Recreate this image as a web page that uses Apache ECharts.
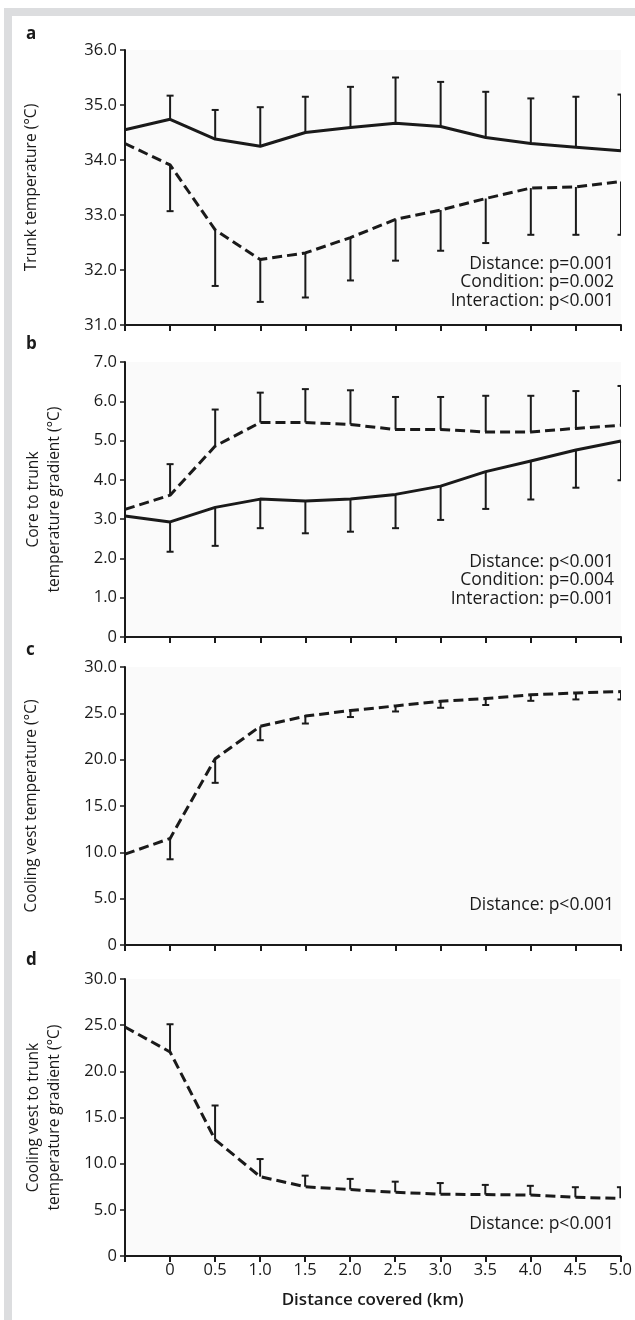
<!DOCTYPE html>
<html>
<head>
<meta charset="utf-8">
<script src="https://cdn.jsdelivr.net/npm/echarts@6/dist/echarts.min.js"></script>
<style>
html,body{margin:0;padding:0;background:#fff;width:635px;height:1320px;overflow:hidden;}
#bandTop{position:absolute;left:4px;top:8px;width:631px;height:8px;background:#dcdddf;}
#bandLeft{position:absolute;left:4px;top:8px;width:8px;height:1312px;background:#dcdddf;}
#chart{position:absolute;left:0;top:0;width:635px;height:1320px;}
</style>
</head>
<body>
<div id="bandTop"></div>
<div id="bandLeft"></div>
<div id="chart"></div>
<script>
// Distance covered (km); -0.5 is the pre-exercise baseline (unlabelled)
const distances = [-0.5, 0, 0.5, 1.0, 1.5, 2.0, 2.5, 3.0, 3.5, 4.0, 4.5, 5.0];

// Panel a: trunk temperature
const aSolid      = [34.55, 34.74, 34.38, 34.25, 34.50, 34.59, 34.67, 34.61, 34.41, 34.30, 34.23, 34.17];
const aSolidUpper = [null, 35.17, 34.91, 34.96, 35.15, 35.33, 35.50, 35.42, 35.24, 35.12, 35.15, 35.19];
const aDash       = [34.30, 33.91, 32.73, 32.19, 32.31, 32.59, 32.92, 33.09, 33.30, 33.49, 33.51, 33.61];
const aDashLower  = [null, 33.07, 31.71, 31.42, 31.50, 31.81, 32.17, 32.35, 32.49, 32.64, 32.64, 32.64];

// Panel b: core to trunk temperature gradient
const bSolid      = [3.08, 2.93, 3.30, 3.51, 3.46, 3.51, 3.63, 3.84, 4.21, 4.48, 4.76, 4.99];
const bSolidLower = [null, 2.17, 2.32, 2.77, 2.64, 2.68, 2.77, 2.98, 3.26, 3.50, 3.80, 3.99];
const bDash       = [3.25, 3.61, 4.86, 5.46, 5.46, 5.41, 5.28, 5.28, 5.22, 5.22, 5.31, 5.39];
const bDashUpper  = [null, 4.40, 5.79, 6.22, 6.31, 6.28, 6.11, 6.11, 6.14, 6.14, 6.26, 6.39];

// Panel c: cooling vest temperature
const cDash       = [9.8, 11.5, 20.1, 23.6, 24.7, 25.3, 25.8, 26.3, 26.6, 27.0, 27.2, 27.35];
const cDashLower  = [null, 9.25, 17.5, 22.1, 23.9, 24.6, 25.2, 25.6, 25.9, 26.35, 26.5, 26.5];

// Panel d: cooling vest to trunk temperature gradient
const dDash       = [24.8, 22.1, 12.6, 8.6, 7.5, 7.2, 6.9, 6.7, 6.65, 6.6, 6.35, 6.25];
const dDashUpper  = [null, 25.1, 16.3, 10.5, 8.7, 8.35, 8.05, 7.9, 7.7, 7.6, 7.45, 7.45];

// Axis settings per panel
const yMin = [31, 0, 0, 0];
const yMax = [36, 7, 30, 30];
const yStep = [1, 1, 5, 5];
const yNames = ['Trunk temperature (°C)', 'Core to trunk\ntemperature gradient (°C)', 'Cooling vest temperature (°C)', 'Cooling vest to trunk\ntemperature gradient (°C)'];
const panelLetters = ['a', 'b', 'c', 'd'];
const statTexts = [
  ['Distance: p=0.001', 'Condition: p=0.002', 'Interaction: p<0.001'],
  ['Distance: p<0.001', 'Condition: p=0.004', 'Interaction: p=0.001'],
  ['Distance: p<0.001'],
  ['Distance: p<0.001']
];
const xName = 'Distance covered (km)';

const FONT = '"Open Sans", "Noto Sans", sans-serif';
const INK = '#1a1a1a';
const gridPos = [
  {top: 50, height: 275},
  {top: 362, height: 275},
  {top: 667, height: 278},
  {top: 979, height: 277}
];
const yNameGap = [83, 60, 83, 60];
const letterY = [37, 347, 653, 963];
const statBottomY = [300, 598, 904, 1223];

function pairs(arr) { return distances.map((x, i) => [x, arr[i]]); }
function errPairs(mean, end) {
  const out = [];
  distances.forEach((x, i) => { if (end[i] != null) out.push([x, mean[i], end[i]]); });
  return out;
}

function errSeries(idx, mean, end) {
  return {
    type: 'custom', xAxisIndex: idx, yAxisIndex: idx, clip: true, z: 3,
    data: errPairs(mean, end),
    renderItem: function (params, api) {
      const p0 = api.coord([api.value(0), api.value(1)]);
      const p1 = api.coord([api.value(0), api.value(2)]);
      const hw = 3.5;
      return {
        type: 'group',
        children: [
          {type: 'line', shape: {x1: p0[0], y1: p0[1], x2: p1[0], y2: p1[1]}, style: {stroke: INK, lineWidth: 2}},
          {type: 'line', shape: {x1: p1[0] - hw, y1: p1[1], x2: p1[0] + hw, y2: p1[1]}, style: {stroke: INK, lineWidth: 2}}
        ]
      };
    }
  };
}
function lineSeries(idx, arr, dashed) {
  return {
    type: 'line', xAxisIndex: idx, yAxisIndex: idx, data: pairs(arr), symbol: 'none', z: 4,
    lineStyle: {color: INK, width: 3, type: dashed ? [10, 5] : 'solid', cap: 'butt', join: 'round'},
    animation: false
  };
}

const grids = gridPos.map(g => ({left: 125, width: 496, top: g.top, height: g.height, show: true, backgroundColor: '#fafafa', borderWidth: 0}));
const xAxes = gridPos.map((g, i) => ({
  type: 'value', gridIndex: i, min: -0.5, max: 5, interval: 0.5,
  axisLine: {show: true, onZero: false, lineStyle: {color: INK, width: 2}},
  axisTick: {show: true, length: 6, lineStyle: {color: INK, width: 2}},
  splitLine: {show: false},
  axisLabel: {
    show: i === 3, color: INK, fontFamily: FONT, fontSize: 16.5, margin: 6,
    formatter: v => (v < -0.1 ? '' : (Math.abs(v) < 1e-9 ? '0' : v.toFixed(1)))
  },
  name: i === 3 ? xName : '', nameLocation: 'middle', nameGap: 36,
  nameTextStyle: {color: INK, fontFamily: FONT, fontSize: 17, fontWeight: 600}
}));
const yAxes = gridPos.map((g, i) => ({
  type: 'value', gridIndex: i, min: yMin[i], max: yMax[i], interval: yStep[i],
  axisLine: {show: true, onZero: false, lineStyle: {color: INK, width: 2}},
  axisTick: {show: true, length: 5, lineStyle: {color: INK, width: 1.5}},
  splitLine: {show: false},
  axisLabel: {
    color: INK, fontFamily: FONT, fontSize: 16.5, margin: 8,
    formatter: v => (Math.abs(v) < 1e-9 ? '0' : v.toFixed(1))
  },
  name: yNames[i], nameLocation: 'middle', nameGap: yNameGap[i], nameRotate: 90,
  nameTextStyle: {color: INK, fontFamily: FONT, fontSize: 15.5, lineHeight: 21}
}));

const series = [
  lineSeries(0, aSolid, false), errSeries(0, aSolid, aSolidUpper),
  lineSeries(0, aDash, true), errSeries(0, aDash, aDashLower),
  lineSeries(1, bSolid, false), errSeries(1, bSolid, bSolidLower),
  lineSeries(1, bDash, true), errSeries(1, bDash, bDashUpper),
  lineSeries(2, cDash, true), errSeries(2, cDash, cDashLower),
  lineSeries(3, dDash, true), errSeries(3, dDash, dDashUpper)
];

const graphics = [];
panelLetters.forEach((L, i) => {
  graphics.push({type: 'text', left: 26, top: letterY[i] - 11, z: 10,
    style: {text: L, fill: INK, font: 'bold 17px ' + FONT}});
  graphics.push({type: 'text', z: 10, x: 614, y: statBottomY[i] + 10,
    style: {text: statTexts[i].join('\n'), fill: INK, font: '17.5px ' + FONT, textAlign: 'right', textVerticalAlign: 'bottom', lineHeight: 18.5}});
});

const chart = echarts.init(document.getElementById('chart'), null, {renderer: 'canvas'});
chart.setOption({
  animation: false,
  backgroundColor: 'transparent',
  grid: grids, xAxis: xAxes, yAxis: yAxes, series: series, graphic: graphics
});
</script>
</body>
</html>
